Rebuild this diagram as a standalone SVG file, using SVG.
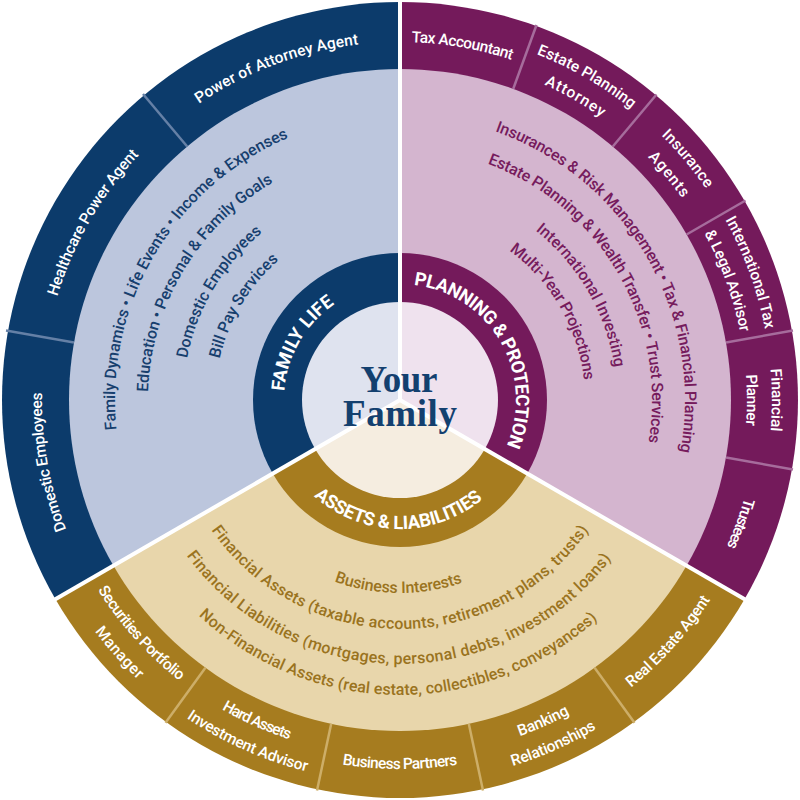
<svg xmlns="http://www.w3.org/2000/svg" width="800" height="800" viewBox="0 0 800 800">
<style>
text{font-family:Roboto,"Open Sans","DejaVu Sans",sans-serif}
.lbl{font-size:15.5px;font-weight:500;fill:#fff;text-anchor:middle}
.ring{font-size:18.5px;font-weight:700;fill:#fff;text-anchor:middle}
.bf,.bp,.ba{font-size:16px;font-weight:500;text-anchor:middle}
.bf{fill:#173f6e}.bp{fill:#761b5d}.ba{fill:#9a7320}
.serif{font-family:"Liberation Serif","Times New Roman",serif;font-weight:700;font-size:37px;fill:#13406f;text-anchor:middle}
.navy{fill:#0c3b6b}.navyL{fill:#bcc6dd}.navyC{fill:#dfe3ef}
.plum{fill:#741a5b}.plumL{fill:#d4b5cf}.plumC{fill:#efe2ee}
.gold{fill:#a67c1f}.goldL{fill:#e8d6ab}.goldC{fill:#f5ede0}
.sep{stroke:#fff;stroke-width:4}
.dvf{stroke:#6580a6;stroke-width:2.5}
.dvp{stroke:#a66c9c;stroke-width:2.5}
.dva{stroke:#cdae68;stroke-width:2.5}
</style>
<defs>
<path id="o116" d="M284,400 A116,116 0 0 1 516,400"/>
<path id="o185" d="M215,400 A185,185 0 0 1 585,400"/>
<path id="o217" d="M183,400 A217,217 0 0 1 617,400"/>
<path id="o252" d="M148,400 A252,252 0 0 1 652,400"/>
<path id="o285" d="M115,400 A285,285 0 0 1 685,400"/>
<path id="o347" d="M53,400 A347,347 0 0 1 747,400"/>
<path id="o358" d="M42,400 A358,358 0 0 1 758,400"/>
<path id="o372" d="M28,400 A372,372 0 0 1 772,400"/>
<path id="i129" d="M271,400 A129,129 0 0 0 529,400"/>
<path id="i193" d="M207,400 A193,193 0 0 0 593,400"/>
<path id="i229" d="M171,400 A229,229 0 0 0 629,400"/>
<path id="i264" d="M136,400 A264,264 0 0 0 664,400"/>
<path id="i295" d="M105,400 A295,295 0 0 0 695,400"/>
<path id="i357" d="M43,400 A357,357 0 0 0 757,400"/>
<path id="i369" d="M31,400 A369,369 0 0 0 769,400"/>
<path id="i383" d="M17,400 A383,383 0 0 0 783,400"/>
</defs>

<g id="family-life">
<path class="navy" d="M400,400 L55.33,599 A398,398 0 0 1 400,2 Z"/>
<path class="navyL" d="M400,400 L113.35,565.5 A331,331 0 0 1 400,69 Z"/>
<path class="navy" d="M400,400 L272.70,473.5 A147,147 0 0 1 400,253 Z"/>
<path class="navyC" d="M400,400 L315.13,449 A98,98 0 0 1 400,302 Z"/>
<text class="ring" transform="rotate(300 400 400)"><textPath href="#o116" startOffset="50%" textLength="104">FAMILY LIFE</textPath></text>
<text class="bf" transform="rotate(300.5 400 400)"><textPath href="#o285" startOffset="50%" textLength="363">Family Dynamics • Life Events • Income &amp; Expenses</textPath></text>
<text class="bf" transform="rotate(300.8 400 400)"><textPath href="#o252" startOffset="50%" textLength="255">Education • Personal &amp; Family Goals</textPath></text>
<text class="bf" transform="rotate(300.8 400 400)"><textPath href="#o217" startOffset="50%" textLength="150">Domestic Employees</textPath></text>
<text class="bf" transform="rotate(301 400 400)"><textPath href="#o185" startOffset="50%" textLength="117">Bill Pay Services</textPath></text>
</g>

<g id="planning-protection">
<path class="plum" d="M400,400 L400,2 A398,398 0 0 1 744.67,599 Z"/>
<path class="plumL" d="M400,400 L400,69 A331,331 0 0 1 686.65,565.5 Z"/>
<path class="plum" d="M400,400 L400,253 A147,147 0 0 1 527.30,473.5 Z"/>
<path class="plumC" d="M400,400 L400,302 A98,98 0 0 1 484.87,449 Z"/>
<text class="ring" transform="rotate(60 400 400)"><textPath href="#o116" startOffset="50%" textLength="215">PLANNING &amp; PROTECTION</textPath></text>
<text class="bp" transform="rotate(60 400 400)"><textPath href="#o285" startOffset="50%" textLength="403">Insurances &amp; Risk Management • Tax &amp; Financial Planning</textPath></text>
<text class="bp" transform="rotate(60 400 400)"><textPath href="#o252" startOffset="50%" textLength="349">Estate Planning &amp; Wealth Transfer • Trust Services</textPath></text>
<text class="bp" transform="rotate(60 400 400)"><textPath href="#o217" startOffset="50%" textLength="162">International Investing</textPath></text>
<text class="bp" transform="rotate(60 400 400)"><textPath href="#o185" startOffset="50%" textLength="154">Multi-Year Projections</textPath></text>
</g>

<g id="assets-liabilities">
<path class="gold" d="M400,400 L744.67,599 A398,398 0 0 1 55.33,599 Z"/>
<path class="goldL" d="M400,400 L686.65,565.5 A331,331 0 0 1 113.35,565.5 Z"/>
<path class="gold" d="M400,400 L527.30,473.5 A147,147 0 0 1 272.70,473.5 Z"/>
<path class="goldC" d="M400,400 L484.87,449 A98,98 0 0 1 315.13,449 Z"/>
<text class="ring" transform="rotate(1 400 400)"><textPath href="#i129" startOffset="50%" textLength="184">ASSETS &amp; LIABILITIES</textPath></text>
<text class="ba" transform="rotate(0.5 400 400)"><textPath href="#i193" startOffset="50%" textLength="131">Business Interests</textPath></text>
<text class="ba" transform="rotate(0 400 400)"><textPath href="#i229" startOffset="50%" textLength="443">Financial Assets (taxable accounts, retirement plans, trusts)</textPath></text>
<text class="ba" transform="rotate(0.4 400 400)"><textPath href="#i264" startOffset="50%" textLength="493">Financial Liabilities (mortgages, personal debts, investment loans)</textPath></text>
<text class="ba" transform="rotate(0.5 400 400)"><textPath href="#i295" startOffset="50%" textLength="438">Non-Financial Assets (real estate, collectibles, conveyances)</textPath></text>
</g>

<g id="connectors">
<line class="dvf" x1="74" y1="342.5" x2="6" y2="330.5"/>
<line class="dvf" x1="187.2" y1="146.5" x2="143" y2="94"/>
<line class="dvp" x1="513.2" y1="89" x2="536.5" y2="25"/>
<line class="dvp" x1="612.8" y1="146.5" x2="656.5" y2="94.5"/>
<line class="dvp" x1="686.6" y1="234.5" x2="745.5" y2="200.5"/>
<line class="dvp" x1="726" y1="342.5" x2="793" y2="330.5"/>
<line class="dvp" x1="726" y1="457.5" x2="793" y2="469.5"/>
<line class="dva" x1="594.6" y1="667.8" x2="634.5" y2="722.8"/>
<line class="dva" x1="468.8" y1="723.8" x2="483" y2="790.5"/>
<line class="dva" x1="331.2" y1="723.8" x2="317" y2="790.5"/>
<line class="dva" x1="205.4" y1="667.8" x2="165.5" y2="722.8"/>
<line class="sep" x1="400" y1="400" x2="400" y2="0"/>
<line class="sep" x1="400" y1="400" x2="746" y2="600"/>
<line class="sep" x1="400" y1="400" x2="54" y2="600"/>
</g>

<g id="center">
<text class="serif" x="399" y="392" textLength="77">Your</text>
<text class="serif" x="400" y="426" textLength="114">Family</text>
</g>

<g id="power-of-attorney-agent"><text class="lbl" transform="rotate(339.6 400 400)"><textPath href="#o358" startOffset="50%" textLength="172">Power of Attorney Agent</textPath></text></g>
<g id="healthcare-power-agent"><text class="lbl" transform="rotate(300 400 400)"><textPath href="#o358" startOffset="50%" textLength="165">Healthcare Power Agent</textPath></text></g>
<g id="domestic-employees"><text class="lbl" transform="rotate(260 400 400)"><textPath href="#o358" startOffset="50%" textLength="140">Domestic Employees</textPath></text></g>

<g id="tax-accountant"><text class="lbl" transform="rotate(10 400 400)"><textPath href="#o358" startOffset="50%" textLength="102">Tax Accountant</textPath></text></g>
<g id="estate-planning-attorney">
<text class="lbl" transform="rotate(30 400 400)"><textPath href="#o372" startOffset="50%" textLength="110">Estate Planning</textPath></text>
<text class="lbl" transform="rotate(30 400 400)"><textPath href="#o347" startOffset="50%" textLength="66">Attorney</textPath></text>
</g>
<g id="insurance-agents">
<text class="lbl" transform="rotate(50 400 400)"><textPath href="#o372" startOffset="50%" textLength="70">Insurance</textPath></text>
<text class="lbl" transform="rotate(50 400 400)"><textPath href="#o347" startOffset="50%" textLength="54">Agents</textPath></text>
</g>
<g id="international-tax-legal-advisor">
<text class="lbl" transform="rotate(70 400 400)"><textPath href="#o372" startOffset="50%" textLength="117">International Tax</textPath></text>
<text class="lbl" transform="rotate(70 400 400)"><textPath href="#o347" startOffset="50%" textLength="106">&amp; Legal Advisor</textPath></text>
</g>
<g id="financial-planner">
<text class="lbl" transform="rotate(90 400 400)"><textPath href="#o372" startOffset="50%" textLength="62">Financial</textPath></text>
<text class="lbl" transform="rotate(90 400 400)"><textPath href="#o347" startOffset="50%" textLength="51">Planner</textPath></text>
</g>
<g id="trustees"><text class="lbl" transform="rotate(110 400 400)"><textPath href="#o358" startOffset="50%" textLength="52">Trustees</textPath></text></g>

<g id="real-estate-agent"><text class="lbl" transform="rotate(-48 400 400)"><textPath href="#i369" startOffset="50%" textLength="119">Real Estate Agent</textPath></text></g>
<g id="banking-relationships">
<text class="lbl" transform="rotate(-24 400 400)"><textPath href="#i357" startOffset="50%" textLength="55">Banking</textPath></text>
<text class="lbl" transform="rotate(-24 400 400)"><textPath href="#i383" startOffset="50%" textLength="92">Relationships</textPath></text>
</g>
<g id="business-partners"><text class="lbl" transform="rotate(0 400 400)"><textPath href="#i369" startOffset="50%" textLength="116">Business Partners</textPath></text></g>
<g id="hard-assets-investment-advisor">
<text class="lbl" transform="rotate(24 400 400)"><textPath href="#i357" startOffset="50%" textLength="74">Hard Assets</textPath></text>
<text class="lbl" transform="rotate(24 400 400)"><textPath href="#i383" startOffset="50%" textLength="132">Investment Advisor</textPath></text>
</g>
<g id="securities-portfolio-manager">
<text class="lbl" transform="rotate(48 400 400)"><textPath href="#i357" startOffset="50%" textLength="123">Securities Portfolio</textPath></text>
<text class="lbl" transform="rotate(48 400 400)"><textPath href="#i383" startOffset="50%" textLength="65">Manager</textPath></text>
</g>
</svg>
